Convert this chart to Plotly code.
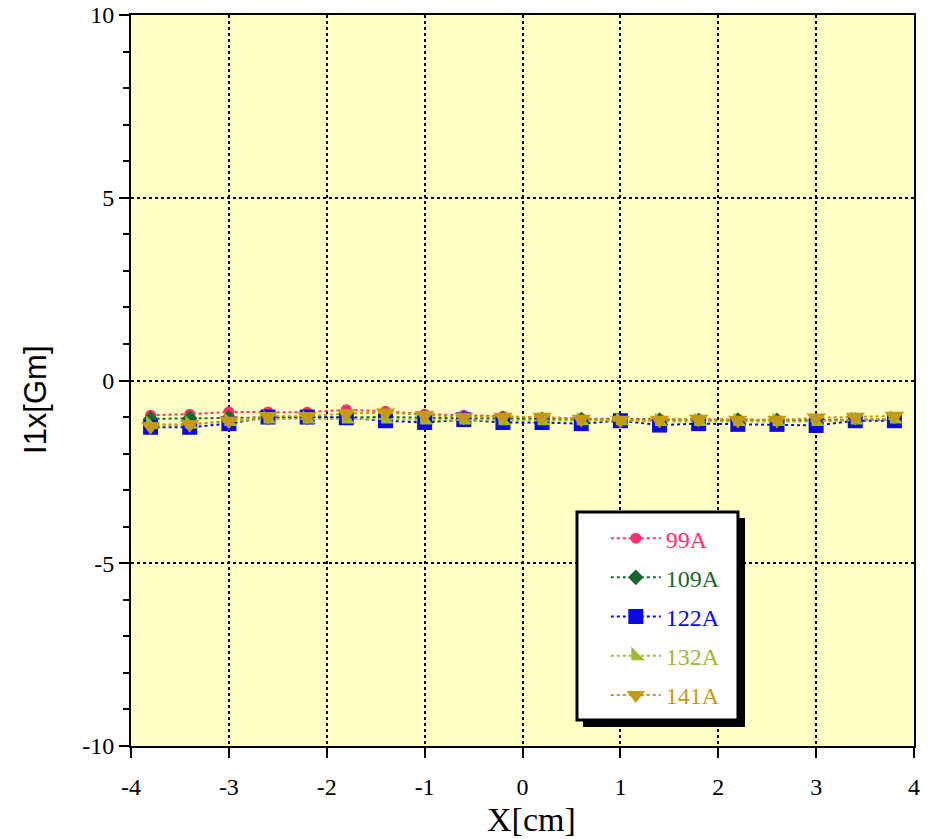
import plotly.graph_objects as go

# Measurement positions along X [cm]
x_cm = [-3.8, -3.4, -3.0, -2.6, -2.2, -1.8, -1.4, -1.0, -0.6, -0.2,
        0.2, 0.6, 1.0, 1.4, 1.8, 2.2, 2.6, 3.0, 3.4, 3.8]

# I1x [Gm] for each coil current
i1x_99A = [-0.95, -0.92, -0.86, -0.86, -0.87, -0.80, -0.84, -0.92, -0.95, -0.98,
           -1.02, -1.04, -1.05, -1.06, -1.07, -1.06, -1.08, -1.08, -1.07, -1.05]
i1x_109A = [-1.05, -1.03, -1.02, -1.01, -1.01, -1.00, -1.00, -1.02, -1.03, -1.05,
            -1.06, -1.07, -1.08, -1.08, -1.09, -1.08, -1.09, -1.10, -1.08, -1.07]
i1x_122A = [-1.28, -1.28, -1.18, -1.00, -1.00, -1.02, -1.10, -1.15, -1.07, -1.15,
            -1.15, -1.18, -1.10, -1.22, -1.18, -1.20, -1.20, -1.23, -1.10, -1.10]
i1x_132A = [-1.20, -1.20, -1.12, -1.05, -1.05, -1.05, -1.05, -1.08, -1.08, -1.10,
            -1.10, -1.10, -1.10, -1.12, -1.12, -1.12, -1.12, -1.12, -1.08, -1.05]
i1x_141A = [-1.25, -1.20, -1.10, -0.98, -0.98, -0.90, -0.88, -0.95, -1.00, -1.00,
            -1.00, -1.05, -1.08, -1.08, -1.05, -1.08, -1.08, -1.02, -1.00, -0.97]

series_names = ["99A", "109A", "122A", "132A", "141A"]
series_values = [i1x_99A, i1x_109A, i1x_122A, i1x_132A, i1x_141A]
series_colors = ["#FF2E6E", "#17692B", "#0A0AE6", "#9CBC2E", "#C49A12"]
series_symbols = ["circle", "diamond", "square", "triangle-sw", "triangle-down"]
series_sizes = [11, 12, 15, 15, 17]

x_ticks = [-4, -3, -2, -1, 0, 1, 2, 3, 4]
x_ticktext = ["-4", "-3", "-2", "-1", "0", "1", "2", "3", "4"]
y_ticks = [-10, -5, 0, 5, 10]
y_ticktext = ["-10", "-5", "0", "5", "10"]

serif = "Liberation Serif, Times New Roman, serif"

fig = go.Figure()
for name, vals, col, sym, sz in zip(series_names, series_values, series_colors,
                                    series_symbols, series_sizes):
    fig.add_trace(go.Scatter(
        x=x_cm, y=vals, mode="lines+markers",
        name=f"<span style='color:{col}'>{name}</span>",
        legendgroup=name,
        line=dict(color=col, width=2, dash="dot"),
        marker=dict(color=col, symbol=sym, size=sz, line=dict(width=0)),
    ))

# legend frame with drop shadow
fig.add_shape(type="rect", xref="paper", yref="paper",
              x0=0.5773, x1=0.7842, y0=0.026, y1=0.3119,
              fillcolor="black", line=dict(width=0), layer="above")
fig.add_shape(type="rect", xref="paper", yref="paper",
              x0=0.5696, x1=0.7752, y0=0.0355, y1=0.3201,
              fillcolor="white", line=dict(color="black", width=3), layer="above")

fig.add_annotation(text="I1x[Gm]", xref="paper", yref="paper",
                   x=-0.122, y=0.474, xanchor="center", yanchor="middle",
                   textangle=-90, showarrow=False,
                   font=dict(family="Liberation Sans, Arial, sans-serif", size=31, color="black"))
fig.add_annotation(text="X[cm]", xref="paper", yref="paper",
                   x=0.512, y=-0.101, xanchor="center", yanchor="middle",
                   showarrow=False,
                   font=dict(family=serif, size=34, color="black"))

axis_common = dict(
    showgrid=True, gridcolor="black", gridwidth=1.5, griddash="dot",
    zeroline=False, showline=True, linecolor="black", linewidth=2, mirror=True,
    ticks="outside", ticklen=10, tickwidth=2, tickcolor="black",
    tickfont=dict(family=serif, size=24, color="black"),
    automargin=False,
)

fig.update_layout(
    width=930, height=839,
    margin=dict(l=131, r=16, t=15, b=93),
    paper_bgcolor="white",
    plot_bgcolor="#FFFFC6",
    font=dict(family=serif, size=22, color="black"),
    showlegend=True,
    legend=dict(
        x=0.6064, y=0.3146, xanchor="left", yanchor="top",
        bgcolor="rgba(0,0,0,0)", borderwidth=0,
        font=dict(family=serif, size=24),
        traceorder="grouped", tracegroupgap=5, itemwidth=50,
    ),
    xaxis=dict(range=[-4, 4], tickvals=x_ticks, ticktext=x_ticktext,
               ticklabelstandoff=8, **axis_common),
    yaxis=dict(range=[-10, 10], tickvals=y_ticks, ticktext=y_ticktext,
               minor=dict(dtick=1, ticks="outside", ticklen=6, tickwidth=2,
                          tickcolor="black", showgrid=False),
               **axis_common),
)

fig.write_html("out.html")
